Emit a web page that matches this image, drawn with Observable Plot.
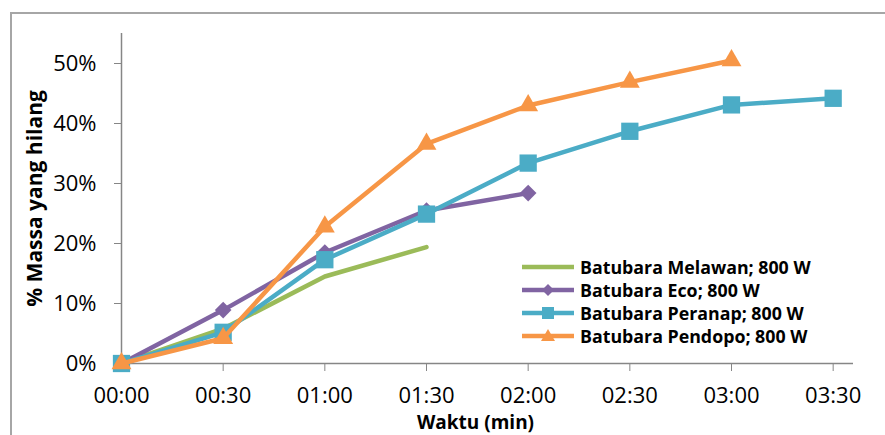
<!DOCTYPE html>
<html>
<head>
<meta charset="utf-8">
<script src="https://cdn.jsdelivr.net/npm/d3@7"></script>
<script src="https://cdn.jsdelivr.net/npm/@observablehq/plot@0.6"></script>
<style>
  body { margin: 0; background: #fff; overflow: hidden; }
  #wrap { position: relative; width: 885px; height: 435px; overflow: hidden; font-family: "Open Sans", sans-serif; }
  #border { position: absolute; left: 10px; top: 12px; width: 1000px; height: 1000px; border-left: 2px solid #a6a6a6; border-top: 2px solid #a6a6a6; }
  #legend { position: absolute; left: 520px; top: 255px; font-weight: bold; font-size: 17.8px; color: #000; }
  .row { display: flex; align-items: center; height: 23px; }
  .row svg { margin-right: 2px; }
</style>
</head>
<body>
<div id="wrap"><div id="border"></div><div id="chart"></div><div id="legend"></div></div>
<script>
// Time in seconds (axis labelled mm:ss)
const times = [0, 30, 60, 90, 120, 150, 180, 210];
const yTicks = [0, 0.1, 0.2, 0.3, 0.4, 0.5];
const seriesNames = ["Batubara Melawan; 800 W", "Batubara Eco; 800 W", "Batubara Peranap; 800 W", "Batubara Pendopo; 800 W"];
const seriesColors = ["#9BBB59", "#8064A2", "#4BACC6", "#F79646"];
const seriesSymbols = [null, "diamond2", "square2", "triangle2"];
const seriesR = [0, 7.5, 11, 9.5];
const melawan = [0, 0.058, 0.145, 0.194];
const eco = [0, 0.089, 0.185, 0.255, 0.284];
const peranap = [0, 0.052, 0.173, 0.249, 0.334, 0.387, 0.431, 0.442];
const pendopo = [0, 0.042, 0.228, 0.366, 0.430, 0.469, 0.505];
const allValues = [melawan, eco, peranap, pendopo];

const fmtTime = s => String(Math.floor(s / 60)).padStart(2, "0") + ":" + String(s % 60).padStart(2, "0");

const seriesMarks = [];
allValues.forEach((vals, i) => {
  const data = vals.map((v, j) => ({t: times[j], v}));
  seriesMarks.push(Plot.line(data, {x: "t", y: "v", stroke: seriesColors[i], strokeWidth: 4.5, strokeLinejoin: "round"}));
  if (seriesSymbols[i]) {
    seriesMarks.push(Plot.dot(data, {x: "t", y: "v", symbol: seriesSymbols[i], r: seriesR[i], fill: seriesColors[i], stroke: "none"}));
  }
});

const chart = Plot.plot({
  width: 885,
  height: 435,
  marginLeft: 121,
  marginRight: 32,
  marginTop: 33,
  marginBottom: 72,
  style: {fontFamily: "Open Sans, sans-serif", fontSize: "22px", color: "#000", background: "transparent", overflow: "visible"},
  x: {domain: [0, 216]},
  y: {domain: [0, 0.55]},
  marks: [
    Plot.axisY({ticks: yTicks, tickFormat: d => Math.round(d * 100) + "%", tickSize: 7, tickPadding: 18, label: null, stroke: "#868686", fontSize: 22}),
    Plot.axisX({ticks: times, tickFormat: fmtTime, tickSize: 8, tickPadding: 16, label: null, stroke: "#868686", fontSize: 22}),
    Plot.ruleX([0], {stroke: "#868686", strokeWidth: 1.5}),
    Plot.ruleY([0], {stroke: "#868686", strokeWidth: 1.5}),
    ...seriesMarks,
    Plot.text(["% Massa yang hilang"], {text: d => d, frameAnchor: "left", textAnchor: "middle", lineAnchor: "middle", rotate: -90, dx: -86, fontWeight: "bold", fontSize: 21, fill: "#000"}),
    Plot.text(["Waktu (min)"], {text: d => d, frameAnchor: "bottom", textAnchor: "middle", lineAnchor: "middle", dx: -12, dy: 59, fontWeight: "bold", fontSize: 19, fill: "#000"})
  ]
});
document.getElementById("chart").appendChild(chart);

// Legend
const legend = document.getElementById("legend");
seriesNames.forEach((name, i) => {
  const row = document.createElement("div");
  row.className = "row";
  const c = seriesColors[i];
  let marker = "";
  if (seriesSymbols[i] === "diamond2") marker = `<path d="M28,4 L34,10 L28,16 L22,10 Z" fill="${c}"/>`;
  else if (seriesSymbols[i] === "square2") marker = `<rect x="22" y="4" width="12" height="12" fill="${c}"/>`;
  else if (seriesSymbols[i] === "triangle2") marker = `<path d="M28,3 L35,15 L21,15 Z" fill="${c}"/>`;
  row.innerHTML = `<svg width="58" height="20"><line x1="2" x2="54" y1="10" y2="10" stroke="${c}" stroke-width="4.5"/>${marker}</svg><span>${name}</span>`;
  legend.appendChild(row);
});
</script>
</body>
</html>
